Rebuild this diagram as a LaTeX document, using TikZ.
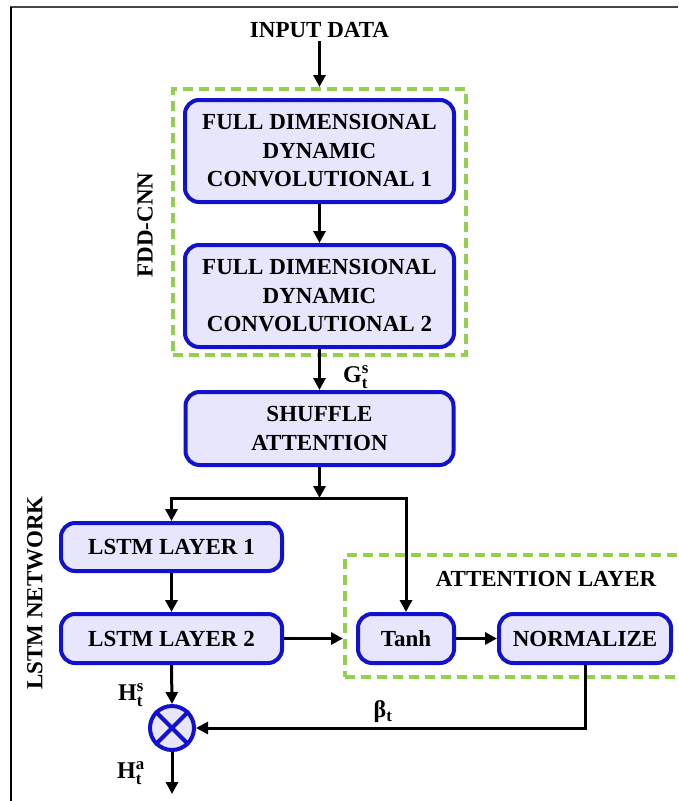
\documentclass[tikz,border=0pt]{standalone}
\usepackage{fontspec}
\setmainfont{Liberation Serif}
\usetikzlibrary{arrows.meta}

\definecolor{boxfill}{RGB}{232,230,252}
\definecolor{boxblue}{RGB}{18,18,204}
\definecolor{dashgreen}{RGB}{146,208,80}
\definecolor{framegray}{RGB}{70,70,70}

\tikzset{
  block/.style={draw=boxblue, line width=4pt, fill=boxfill, rounded corners=14pt,
    align=center, inner sep=0pt, font=\bfseries\fontsize{23}{28.5}\selectfont},
  group/.style={draw=dashgreen, line width=4pt, dash pattern=on 10pt off 6pt, inner sep=0pt},
  flow/.style={line width=3pt, -{Triangle[length=12pt,width=12pt]}},
  title/.style={font=\bfseries\fontsize{23}{28}\selectfont},
  sym/.style={font=\fontsize{24}{24}\selectfont, inner sep=0pt},
}

\begin{document}
\begin{tikzpicture}[x=1pt,y=-1pt]
\clip (0,0) rectangle (678,801);

% page frame (top and left edges)
\draw[line width=2pt, framegray] (10,7) -- (678,7);
\draw[line width=2pt] (11,7) -- (11,801);

% dashed groups
\node[group, minimum width=293pt, minimum height=266pt] (fdd) at (319.5,222) {};
\node[group, minimum width=353pt, minimum height=122pt] (att) at (521.5,616) {};

% titles
\node[title] (input) at (319.5,30) {INPUT DATA};
\node[title, rotate=90] (fddlabel) at (145,225) {FDD-CNN};
\node[title, rotate=90] (lstmlabel) at (35,593) {LSTM NETWORK};
\node[title] (attlabel) at (546,579) {ATTENTION LAYER};

% blocks
\node[block, minimum width=269pt, minimum height=102pt] (conv1) at (319.5,151)
  {FULL DIMENSIONAL\\DYNAMIC\\CONVOLUTIONAL 1};
\node[block, minimum width=269pt, minimum height=102pt] (conv2) at (319.5,296)
  {FULL DIMENSIONAL\\DYNAMIC\\CONVOLUTIONAL 2};
\node[block, minimum width=268pt, minimum height=73pt] (shuffle) at (319.5,428.5)
  {SHUFFLE\\ATTENTION};
\node[block, minimum width=221pt, minimum height=48pt] (lstm1) at (171.5,547) {LSTM LAYER 1};
\node[block, minimum width=221pt, minimum height=49pt] (lstm2) at (171.5,638.5) {LSTM LAYER 2};
\node[block, minimum width=96pt, minimum height=49pt] (tanh) at (406,638.5) {Tanh};
\node[block, minimum width=172pt, minimum height=49pt] (norm) at (585,638.5) {NORMALIZE};

% element-wise product
\node[circle, draw=boxblue, line width=4pt, fill=boxfill, minimum size=44pt, inner sep=0pt]
  (mult) at (172,728) {};
\draw[boxblue, line width=4pt] (mult.45) -- (mult.225) (mult.135) -- (mult.315);

% signal labels
\node[sym] (gts) at (356,377) {$\mathbf{G}_{\mathbf{t}}^{\mathbf{s}}$};
\node[sym] (hts) at (131,695) {$\mathbf{H}_{\mathbf{t}}^{\mathbf{s}}$};
\node[sym] (hta) at (131,773) {$\mathbf{H}_{\mathbf{t}}^{\mathbf{a}}$};
\node[sym] (beta) at (383,712) {\textbf{β}$_{\mathbf{t}}$};

% connectors
\coordinate (split) at (319.5,498);
\coordinate (out) at (172,794);
\draw[flow] (input.south) -- (fdd.north);
\draw[flow] (conv1.south) -- (conv2.north);
\draw[flow] (conv2.south) -- (shuffle.north);
\draw[flow] (shuffle.south) -- (split);
\draw[flow] (split) -| (lstm1.north);
\draw[flow] (split) -| (tanh.north);
\draw[flow] (lstm1.south) -- (lstm2.north);
\draw[flow] (lstm2.east) -- (lstm2.east -| att.west);
\draw[flow] (tanh.east) -- (norm.west);
\draw[flow] (norm.south) |- (mult.east);
\draw[flow] (lstm2.south) -- (mult.north);
\draw[flow] (mult.south) -- (out);
\end{tikzpicture}
\end{document}
